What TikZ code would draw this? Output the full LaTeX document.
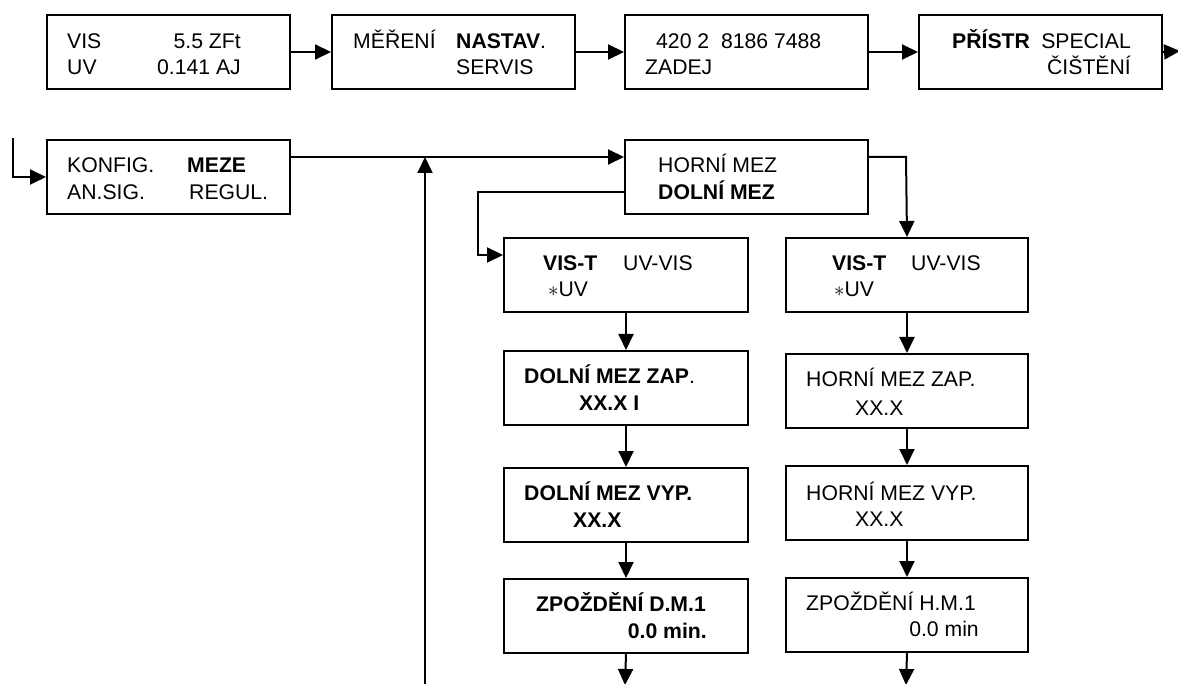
\documentclass[tikz,border=0pt]{standalone}
\usepackage{fontspec}
\setmainfont{Liberation Sans}
\usetikzlibrary{arrows.meta}
\begin{document}
\begin{tikzpicture}[x=1pt,y=-1pt,
  box/.style={draw,line width=2pt,inner sep=0pt,minimum width=#1,minimum height=74pt,anchor=north west},
  box/.default=243pt,
  txt/.style={inner sep=0pt,anchor=base west,font=\fontsize{21.2}{25}\selectfont},
  txte/.style={txt,anchor=base east},
  wire/.style={line width=2pt},
  arr/.style={wire,-{Triangle[length=16pt,width=15pt]}}]
\useasboundingbox (0,0) rectangle (1178,684);
% top row
\node[box] (b1) at (46,14) {};
\node[box] (b2) at (331,14) {};
\node[box] (b3) at (624,14) {};
\node[box] (b4) at (918,14) {};
\node[txt]  (t1a) at (67,49) {VIS};
\node[txte] (t1b) at (241,49) {5.5 ZFt};
\node[txt]  (t1c) at (67,75) {UV};
\node[txte] (t1d) at (241,75) {0.141 AJ};
\node[txt]  (t2a) at (353,49) {MĚŘENÍ};
\node[txt]  (t2b) at (456,49) {\textbf{NASTAV}.};
\node[txt]  (t2c) at (456,75) {SERVIS};
\node[txt]  (t3a) at (656,49) {420 2\ \ 8186 7488};
\node[txt]  (t3b) at (645,75) {ZADEJ};
\node[txt]  (t4a) at (952,49) {\textbf{PŘÍSTR}};
\node[txte] (t4b) at (1131,49) {SPECIAL};
\node[txte] (t4c) at (1131,75) {ČIŠTĚNÍ};
\coordinate (cont) at (1180,51);
\draw[arr] (b1) -- (b2);
\draw[arr] (b2) -- (b3);
\draw[arr] (b3) -- (b4);
\draw[arr] (b4.east) -- (cont);
% second row
\node[box] (konfig) at (46,139) {};
\node[box] (horni) at (624,139) {};
\node[txt] (k1) at (67,173) {KONFIG.};
\node[txt] (k2) at (187,173) {\textbf{MEZE}};
\node[txt] (k3) at (67,200) {AN.SIG.};
\node[txt] (k4) at (189,200) {REGUL.};
\node[txt] (h1) at (658,173) {HORNÍ MEZ};
\node[txt] (h2) at (658,200) {\textbf{DOLNÍ MEZ}};
\coordinate (entry) at (13,138);
\coordinate (mainy) at (0,157);
\coordinate (dolniy) at (0,192);
\coordinate (leftx) at (478,0);
\coordinate (visly) at (0,255);
\coordinate (rightx) at (906,0);
\coordinate (upbot) at (425,684);
\draw[arr] (entry) |- (konfig.west);
\draw[arr] (konfig.east |- mainy) -- (horni.west |- mainy);
\draw[arr] (upbot) -- (upbot |- mainy);
% columns
\node[box=244pt] (visL) at (503,237) {};
\node[box=244pt] (zapL) at (503,350) {};
\node[box=244pt] (vypL) at (503,467) {};
\node[box=244pt] (zpL)  at (503,578) {};
\node[box=242pt] (visR) at (785,237) {};
\node[box=242pt] (zapR) at (785,353) {};
\node[box=242pt] (vypR) at (785,465) {};
\node[box=242pt] (zpR)  at (785,577) {};
\draw[arr] (horni.west |- dolniy) -- (leftx |- dolniy) -- (leftx |- visly) -- (visL.west |- visly);
\draw[arr] (horni.east |- mainy) -- (rightx |- mainy) -- (visR.north);
\draw[arr] (visL) -- (zapL);
\draw[arr] (zapL) -- (vypL);
\draw[arr] (vypL) -- (zpL);
\draw[arr] (visR) -- (zapR);
\draw[arr] (zapR) -- (vypR);
\draw[arr] (vypR) -- (zpR);
\coordinate (endL) at (625,685);
\coordinate (endR) at (906,685);
\draw[arr] (zpL.south) -- (endL);
\draw[arr] (zpR.south) -- (endR);
% column texts
\node[txt] (vl1) at (543,271) {\textbf{VIS-T}};
\node[txt] (vl2) at (623,271) {UV-VIS};
\node[txt] (vl3) at (548,297) {$\ast$UV};
\node[txt] (vr1) at (832,271) {\textbf{VIS-T}};
\node[txt] (vr2) at (911,271) {UV-VIS};
\node[txt] (vr3) at (834,297) {$\ast$UV};
\node[txt] (zl1) at (524,384) {\textbf{DOLNÍ MEZ ZAP}.};
\node[txt] (zl2) at (579,410) {\textbf{XX.X I}};
\node[txt] (yl1) at (524,500) {\textbf{DOLNÍ MEZ VYP.}};
\node[txt] (yl2) at (573,527) {\textbf{XX.X}};
\node[txt] (pl1) at (536,611) {\textbf{ZPOŽDĚNÍ D.M.1}};
\node[txte] (pl2) at (707,638) {\textbf{0.0 min.}};
\node[txt] (zr1) at (806,387) {HORNÍ MEZ ZAP.};
\node[txt] (zr2) at (855,415) {XX.X};
\node[txt] (yr1) at (806,500) {HORNÍ MEZ VYP.};
\node[txt] (yr2) at (855,526) {XX.X};
\node[txt] (pr1) at (806,610) {ZPOŽDĚNÍ H.M.1};
\node[txte] (pr2) at (979,636) {0.0 min};
\end{tikzpicture}
\end{document}
